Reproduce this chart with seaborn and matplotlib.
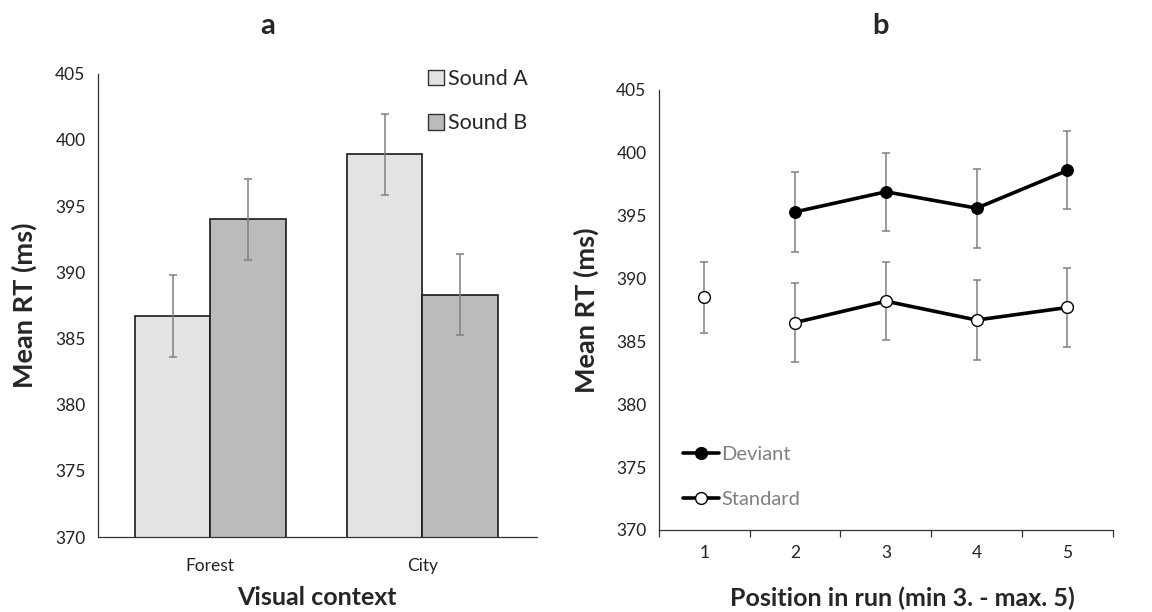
import numpy as np
import pandas as pd
import matplotlib
matplotlib.use('Agg')
import matplotlib.pyplot as plt
import seaborn as sns
from matplotlib.lines import Line2D
from matplotlib.patches import Patch

# DADOS - painel a
contextos = ['Forest', 'City']
sons = ['Sound A', 'Sound B']
rt_som_a = [386.7, 398.9]
rt_som_b = [394.0, 388.3]
erro_som_a = [3.1, 3.05]
erro_som_b = [3.05, 3.05]

# DADOS - painel b
posicoes = [1, 2, 3, 4, 5]
pos_deviant = [2, 3, 4, 5]
rt_deviant = [395.3, 396.9, 395.6, 398.6]
erro_deviant = [3.15, 3.1, 3.15, 3.1]
pos_standard = [1, 2, 3, 4, 5]
rt_standard = [388.5, 386.5, 388.2, 386.7, 387.7]
erro_standard = [2.85, 3.15, 3.1, 3.15, 3.15]

sns.set_style('white')
plt.rcParams['font.family'] = ['Lato', 'DejaVu Sans']

cor_a = '#e3e3e3'
cor_b = '#bbbbbc'
cor_erro = '#808080'

fig = plt.figure(figsize=(11.52, 6.12), dpi=100)
ax1 = fig.add_axes([0.085, 0.1225, 0.381, 0.757])
ax2 = fig.add_axes([0.572, 0.134, 0.394, 0.719])

# PAINEL A
df_a = pd.DataFrame({
    'Contexto': contextos * 2,
    'Som': [sons[0]] * 2 + [sons[1]] * 2,
    'RT': rt_som_a + rt_som_b,
})
sns.barplot(data=df_a, x='Contexto', y='RT', hue='Som', order=contextos,
            hue_order=sons, palette=[cor_a, cor_b], width=0.71,
            edgecolor='#1a1a1a', linewidth=1.2, errorbar=None, ax=ax1,
            legend=False, saturation=1)
# barras de erro nos centros das barras
erros = erro_som_a + erro_som_b
valores = rt_som_a + rt_som_b
for barra, v, e in zip(ax1.patches, valores, erros):
    xc = barra.get_x() + barra.get_width() / 2
    ax1.errorbar(xc, v, yerr=e, color=cor_erro, capsize=3, lw=1.1,
                 capthick=1.1, zorder=5)
ax1.set_ylim(370, 405)
ax1.set_xlim(-0.53, 1.54)
ax1.set_yticks(np.arange(370, 406, 5))
ax1.tick_params(axis='both', length=0, labelsize=12.5, colors='#222222', pad=9)
ax1.tick_params(axis='x', pad=15)
ax1.set_ylabel('Mean RT (ms)', fontsize=19.5, fontweight='bold', labelpad=13)
ax1.set_xlabel('Visual context', fontsize=18, fontweight='bold', labelpad=9)
for lado in ['top', 'right']:
    ax1.spines[lado].set_visible(False)
for lado in ['left', 'bottom']:
    ax1.spines[lado].set_color('#333333')
    ax1.spines[lado].set_linewidth(0.9)
fig.text(0.2326, 0.957, 'a', fontsize=21, fontweight='bold', ha='center',
         va='center')
handles_a = [Patch(facecolor=cor_a, edgecolor='#333333', label=sons[0]),
             Patch(facecolor=cor_b, edgecolor='#333333', label=sons[1])]
ax1.legend(handles=handles_a, loc='upper right', bbox_to_anchor=(1.014, 1.043),
           frameon=False, fontsize=15.5, handlelength=0.75, handleheight=0.75,
           handletextpad=0.2, labelspacing=1.14, borderpad=0.2)

# PAINEL B
df_dev = pd.DataFrame({'Posicao': pos_deviant, 'RT': rt_deviant})
df_std = pd.DataFrame({'Posicao': pos_standard[1:], 'RT': rt_standard[1:]})

ax2.errorbar(pos_deviant, rt_deviant, yerr=erro_deviant, fmt='none',
             ecolor=cor_erro, capsize=3, lw=1.1, capthick=1.1, zorder=2)
ax2.errorbar(pos_standard, rt_standard, yerr=erro_standard, fmt='none',
             ecolor=cor_erro, capsize=3, lw=1.1, capthick=1.1, zorder=2)
sns.lineplot(data=df_dev, x='Posicao', y='RT', color='black', lw=2.6,
             marker='o', markersize=8.5, markerfacecolor='black',
             markeredgecolor='black', ax=ax2, zorder=3)
sns.lineplot(data=df_std, x='Posicao', y='RT', color='black', lw=2.6,
             marker='o', markersize=8.5, markerfacecolor='white',
             markeredgecolor='black', markeredgewidth=1.0, ax=ax2, zorder=3)
sns.scatterplot(x=pos_standard[:1], y=rt_standard[:1], color='white',
                edgecolor='black', s=72, linewidth=1.0, ax=ax2, zorder=3)

ax2.set_ylim(370, 405)
ax2.set_xlim(0.5, 5.5)
ax2.set_yticks(np.arange(370, 406, 5))
ax2.set_xticks(np.arange(0.5, 5.6, 1.0))
ax2.set_xticklabels([])
ax2.set_xticks(posicoes, minor=True)
ax2.set_xticklabels([str(p) for p in posicoes], minor=True)
ax2.tick_params(axis='x', which='major', length=5, width=0.9,
                direction='out', bottom=True, color='#333333')
ax2.tick_params(axis='x', which='minor', length=0, labelsize=12.5,
                colors='#222222', pad=11)
ax2.tick_params(axis='y', length=0, labelsize=12.5, colors='#222222', pad=9)
ax2.set_ylabel('Mean RT (ms)', fontsize=19.5, fontweight='bold', labelpad=12)
ax2.set_xlabel('Position in run (min 3. - max. 5)', fontsize=18,
               fontweight='bold', labelpad=18)
ax2.xaxis.label.set_x(0.537)
for lado in ['top', 'right']:
    ax2.spines[lado].set_visible(False)
for lado in ['left', 'bottom']:
    ax2.spines[lado].set_color('#333333')
    ax2.spines[lado].set_linewidth(0.9)
fig.text(0.764, 0.957, 'b', fontsize=21, fontweight='bold', ha='center',
         va='center')

handles_b = [
    Line2D([], [], color='black', lw=2.6, marker='o', markersize=8.5,
           markerfacecolor='black', label='Deviant'),
    Line2D([], [], color='black', lw=2.6, marker='o', markersize=8.5,
           markerfacecolor='white', markeredgecolor='black',
           label='Standard'),
]
leg = ax2.legend(handles=handles_b, loc='upper left',
                 bbox_to_anchor=(0.053, 0.191), frameon=False, fontsize=14.5,
                 handlelength=1.8, handletextpad=0.1, labelspacing=1.38,
                 borderpad=0, borderaxespad=0)
for t in leg.get_texts():
    t.set_color('#808080')

fig.savefig('out.png', dpi=100)
